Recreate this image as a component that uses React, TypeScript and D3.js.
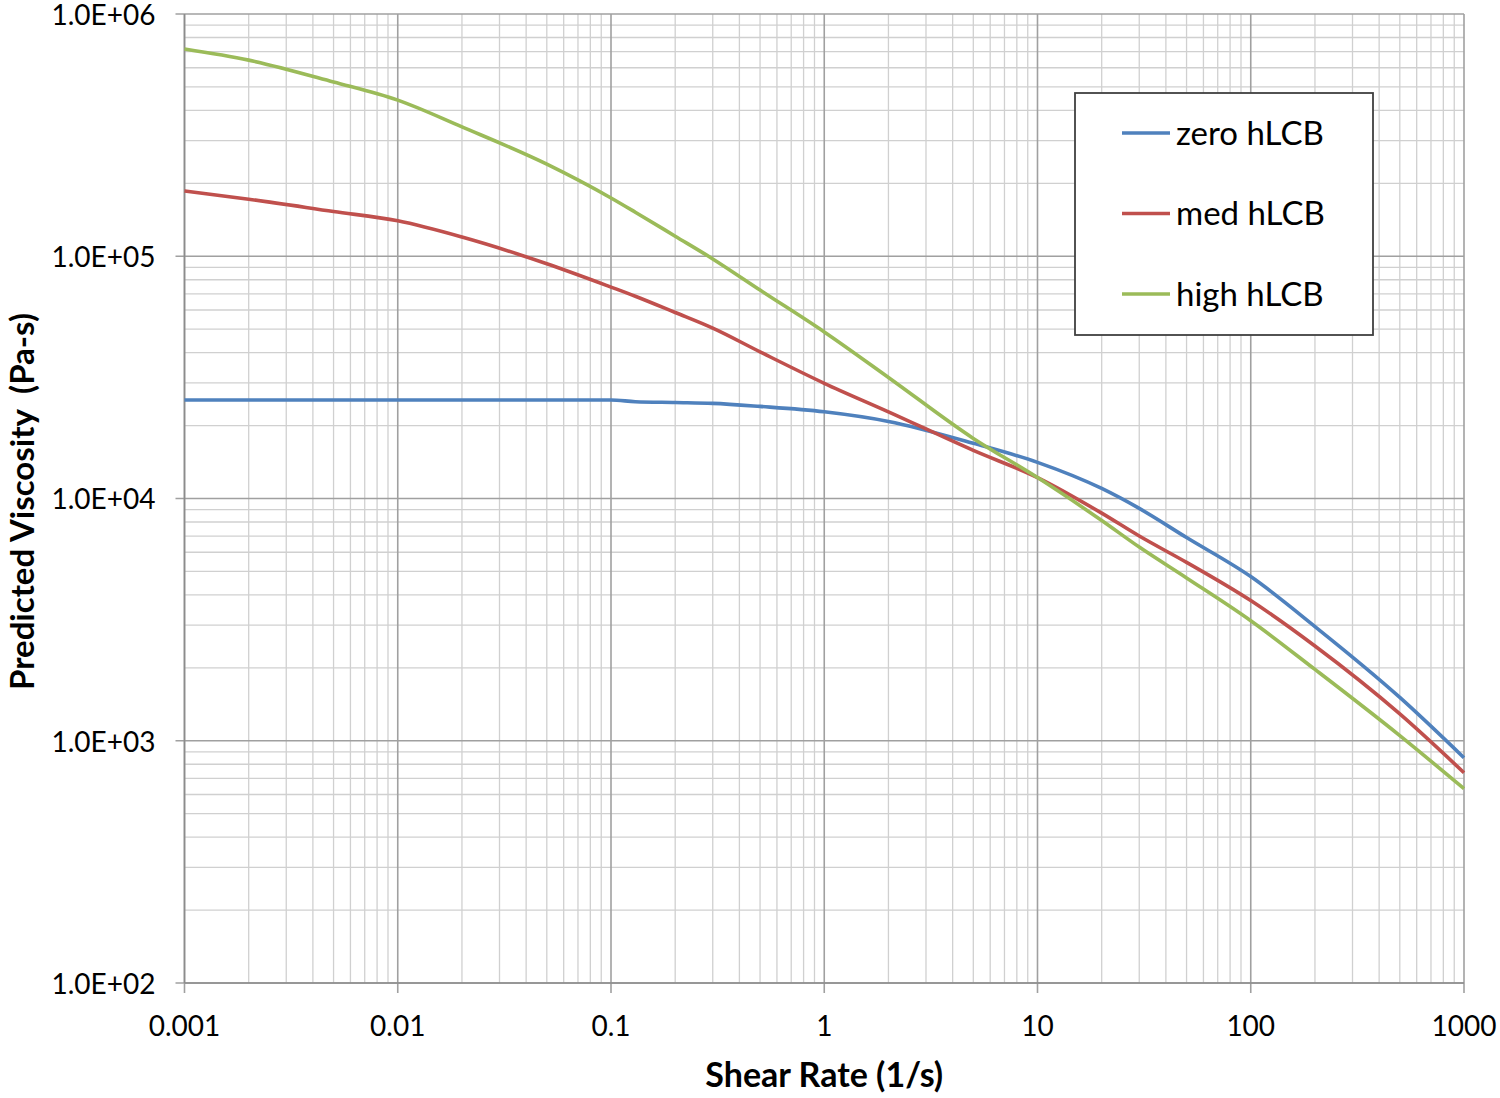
import * as d3 from "d3";

// shear rate samples (1/s) and predicted viscosity (Pa-s)
const shearRate = [0.001, 0.002, 0.005, 0.01, 0.02, 0.05, 0.1, 0.13, 0.2, 0.3, 0.5, 1, 2, 5, 10, 20, 30, 50, 100, 200, 500, 1000];
const zeroHLCB = [25500, 25500, 25500, 25500, 25500, 25500, 25500, 25100, 24900, 24700, 24000, 22800, 20800, 16900, 14100, 11000, 9100, 6900, 4760, 2960, 1510, 851];
const medHLCB = [186000, 172000, 153000, 140000, 120000, 93100, 74600, 68400, 58600, 50500, 40300, 29900, 22800, 15800, 12200, 8700, 7000, 5450, 3790, 2460, 1290, 738];
const highHLCB = [717000, 645000, 524000, 441000, 342000, 240000, 174000, 152000, 121000, 97500, 72500, 48700, 31600, 17700, 12200, 8110, 6300, 4700, 3130, 1970, 1050, 634];

const seriesNames = ["zero hLCB", "med hLCB", "high hLCB"];
const seriesColors = ["#4F81BD", "#C0504D", "#9BBB59"];
const seriesValues = [zeroHLCB, medHLCB, highHLCB];

const xTickLabels = ["0.001", "0.01", "0.1", "1", "10", "100", "1000"];
const yTickLabels = ["1.0E+02", "1.0E+03", "1.0E+04", "1.0E+05", "1.0E+06"];

const width = 1500;
const height = 1098;
const margin = { top: 14, right: 36, bottom: 115, left: 184.5 };
const font = "Lato, 'Open Sans', sans-serif";

export default function App() {
  const x = d3.scaleLog().domain([0.001, 1000]).range([margin.left, width - margin.right]);
  const y = d3.scaleLog().domain([100, 1e6]).range([height - margin.bottom, margin.top]);

  const isDecade = (v: number) => Math.abs(Math.log10(v) - Math.round(Math.log10(v))) < 1e-9;
  const xMinor = x.ticks().filter((v) => !isDecade(v));
  const xMajor = x.ticks().filter(isDecade);
  const yMinor = y.ticks().filter((v) => !isDecade(v));
  const yMajor = y.ticks().filter(isDecade);

  const line = d3
    .line<[number, number]>()
    .x((d) => x(d[0]))
    .y((d) => y(d[1]))
    .curve(d3.curveMonotoneX);

  const [x0, x1] = x.range();
  const [y0, y1] = y.range();

  const legend = { x: 1075, y: 93, w: 298, h: 242 };
  const legendRow = d3.scalePoint<string>().domain(seriesNames).range([legend.y + 40, legend.y + 201]);

  return (
    <div style={{ position: "absolute", left: 0, top: 0 }}>
      <svg width={width} height={height} style={{ display: "block", background: "#fff" }}>
        {/* minor grid */}
        <g stroke="#d0d0d0" strokeWidth={1.3}>
          {xMinor.map((v) => (
            <line key={"xm" + v} x1={x(v)} x2={x(v)} y1={y1} y2={y0} />
          ))}
          {yMinor.map((v) => (
            <line key={"ym" + v} x1={x0} x2={x1} y1={y(v)} y2={y(v)} />
          ))}
        </g>
        {/* major grid */}
        <g stroke="#a0a0a0" strokeWidth={1.6}>
          {xMajor.map((v) => (
            <line key={"xM" + v} x1={x(v)} x2={x(v)} y1={y1} y2={y0 + 10} />
          ))}
          {yMajor.map((v) => (
            <line key={"yM" + v} x1={x0 - 9} x2={x1} y1={y(v)} y2={y(v)} />
          ))}
        </g>
        {/* axis lines */}
        <g stroke="#8c8c8c" strokeWidth={1.6}>
          <line x1={x0} x2={x0} y1={y1} y2={y0} />
          <line x1={x0} x2={x1} y1={y0} y2={y0} />
        </g>

        {/* series */}
        {seriesValues.map((vals, i) => (
          <path
            key={seriesNames[i]}
            d={line(shearRate.map((s, j) => [s, vals[j]] as [number, number])) || ""}
            fill="none"
            stroke={seriesColors[i]}
            strokeWidth={3.6}
            strokeLinejoin="round"
          />
        ))}

        {/* tick labels */}
        <g fontFamily={font} fontSize={28} fill="#000">
          {yMajor.map((v, i) => (
            <text key={"yl" + v} x={x0 - 29} y={y(v) + 1} dy="0.35em" textAnchor="end">
              {yTickLabels[i]}
            </text>
          ))}
          {xMajor.map((v, i) => (
            <text key={"xl" + v} x={x(v)} y={y0 + 53} textAnchor="middle">
              {xTickLabels[i]}
            </text>
          ))}
        </g>

        {/* axis titles */}
        <text
          x={(x0 + x1) / 2}
          y={1087}
          textAnchor="middle"
          fontFamily={font}
          fontWeight="bold"
          fontSize={34}
        >
          Shear Rate (1/s)
        </text>
        <text
          transform={`translate(34, ${(y0 + y1) / 2 + 3}) rotate(-90)`}
          textAnchor="middle"
          fontFamily={font}
          fontWeight="bold"
          fontSize={33}
          style={{ whiteSpace: "pre" }}
        >
          {"Predicted Viscosity  (Pa-s)"}
        </text>

        {/* legend */}
        <rect
          x={legend.x}
          y={legend.y}
          width={legend.w}
          height={legend.h}
          fill="#fff"
          stroke="#404040"
          strokeWidth={1.8}
        />
        {seriesNames.map((name, i) => (
          <g key={"lg" + name}>
            <line
              x1={legend.x + 47}
              x2={legend.x + 95}
              y1={legendRow(name)}
              y2={legendRow(name)}
              stroke={seriesColors[i]}
              strokeWidth={3.6}
            />
            <text
              x={legend.x + 101}
              y={legendRow(name)}
              dy="0.35em"
              fontFamily={font}
              fontSize={33}
              fill="#000"
            >
              {name}
            </text>
          </g>
        ))}
      </svg>
    </div>
  );
}
